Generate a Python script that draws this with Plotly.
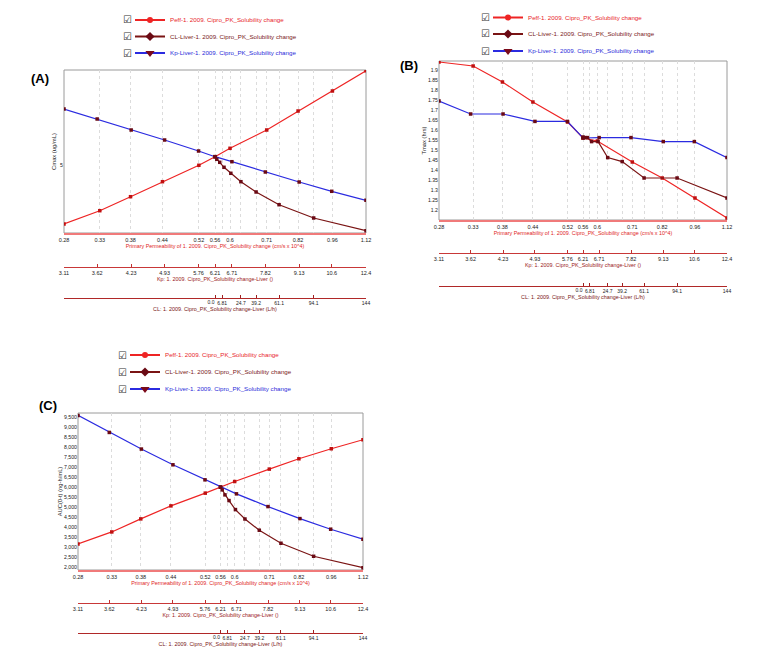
import math
import plotly.graph_objects as go

W, H = 759, 658

# ---------------- data ----------------
peff = [0.28, 0.33, 0.38, 0.44, 0.52, 0.56, 0.6, 0.71, 0.82, 0.96, 1.12]
peff_text = ["0.28", "0.33", "0.38", "0.44", "0.52", "0.56", "0.6", "0.71", "0.82", "0.96", "1.12"]
kp = [3.11, 3.62, 4.23, 4.93, 5.76, 6.21, 6.71, 7.82, 9.13, 10.6, 12.4]
kp_text = ["3.11", "3.62", "4.23", "4.93", "5.76", "6.21", "6.71", "7.82", "9.13", "10.6", "12.4"]
cl = [0, 1.7, 4.5, 8.6, 15.1, 24.7, 39.2, 61.1, 94.1, 144]
cl_ticks = [6.81, 24.7, 39.2, 61.1, 94.1, 144]
cl_text = ["6.81", "24.7", "39.2", "61.1", "94.1", "144"]
cl_zero_tick = [0]
cl_zero_text = ["0.0"]

cmax_peff = [4.41, 4.543, 4.683, 4.833, 4.997, 5.083, 5.167, 5.35, 5.54, 5.74, 5.943]
cmax_kp = [5.56, 5.46, 5.35, 5.25, 5.14, 5.083, 5.033, 4.93, 4.83, 4.737, 4.647]
cmax_cl = [5.083, 5.057, 5.027, 4.977, 4.917, 4.833, 4.73, 4.603, 4.47, 4.343]

tmax_peff = [1.94, 1.92, 1.84, 1.74, 1.64, 1.56, 1.545, 1.44, 1.36, 1.26, 1.16]
tmax_kp = [1.745, 1.68, 1.68, 1.643, 1.643, 1.56, 1.562, 1.562, 1.542, 1.542, 1.462]
tmax_cl = [1.565, 1.562, 1.562, 1.542, 1.542, 1.462, 1.442, 1.36, 1.36, 1.26]

auc_peff = [3165, 3765, 4415, 5065, 5700, 6000, 6280, 6900, 7415, 7915, 8365]
auc_kp = [9580, 8730, 7900, 7115, 6365, 6000, 5665, 5030, 4430, 3900, 3400]
auc_cl = [6000, 5865, 5615, 5330, 4880, 4410, 3850, 3200, 2550, 1980]

legend_names = ["Peff-1. 2009. Cipro_PK_Solubility change",
                "CL-Liver-1. 2009. Cipro_PK_Solubility change",
                "Kp-Liver-1. 2009. Cipro_PK_Solubility change"]
title_peff = "Primary Permeability of 1. 2009. Cipro_PK_Solubility change (cm/s x 10^4)"
title_kp = "Kp: 1. 2009. Cipro_PK_Solubility change-Liver ()"
title_cl = "CL: 1. 2009. Cipro_PK_Solubility change-Liver (L/h)"

# ---------------- styles ----------------
RED = "#ee2424"
BLUE = "#2b2be0"
BROWN = "#7a1414"
MK_RED = "#c01010"
MK_DARK = "#6a0a14"
SANS = "Liberation Sans, Arial, sans-serif"


def xd(l, r):
    return [l / W, r / W]


def yd(top, bottom):
    return [1 - bottom / H, 1 - top / H]


def yp(y):
    return 1 - y / H


panels = [
    dict(x0=64, x1=366, y0=70, y1=233, kpl=267, cll=298,
         ys=(cmax_peff, cmax_kp, cmax_cl), yr=[4.32, 5.95], ytitle="Cmax (ug/mL)",
         ytv=[5], ytt=["5"], ystand=3, label="(A)", lab=(40, 78), leg=(130, [20, 36.5, 53])),
    dict(x0=439, x1=727, y0=61, y1=220, kpl=253, cll=286,
         ys=(tmax_peff, tmax_kp, tmax_cl), yr=[1.15, 1.945], ytitle="Tmax (hrs)",
         ytv=[1.2 + 0.05 * i for i in range(15)], ytt=None, ystand=0, label="(B)", lab=(409, 65),
         leg=(488, [17.5, 34, 51])),
    dict(x0=78, x1=363, y0=413, y1=570, kpl=603, cll=633,
         ys=(auc_peff, auc_kp, auc_cl), yr=[1865, 9700], ytitle="AUC(0-t) (ng-h/mL)",
         ytv=[2000 + 500 * i for i in range(16)], ytt=None, ystand=0, label="(C)", lab=(48, 405),
         leg=(125, [355, 372, 389])),
]

fig = go.Figure()
layout = dict(width=W, height=H, margin=dict(l=0, r=0, t=0, b=0, autoexpand=False),
              paper_bgcolor="white", plot_bgcolor="rgba(0,0,0,0)",
              showlegend=True, annotations=[], shapes=[])

tickfont = dict(family=SANS, size=5.5, color="#222")
ytickfont = dict(family=SANS, size=5.2, color="#222")
cltickfont = dict(family=SANS, size=5.0, color="#222")
TITLE_SIZE = 5.4
legend_count = 0
for i, p in enumerate(panels):
    ax_p = 3 * i + 1
    ax_k = 3 * i + 2
    ax_c = 3 * i + 3
    ax_z = 10 + i
    yid = i + 1
    xn = lambda n: "x" if n == 1 else f"x{n}"
    yn = "y" if yid == 1 else f"y{yid}"
    xkey = lambda n: "xaxis" if n == 1 else f"xaxis{n}"
    ykey = "yaxis" if yid == 1 else f"yaxis{yid}"
    dom = xd(p["x0"], p["x1"])

    layout[xkey(ax_p)] = dict(
        domain=dom, anchor=yn, type="log",
        range=[math.log10(peff[0]), math.log10(peff[-1])],
        tickmode="array", tickvals=peff, ticktext=peff_text, tickfont=tickfont, tickangle=0,
        ticks="", showline=True, linecolor="#f07a7a", linewidth=2,
        showgrid=True, gridcolor="#dcdcdc", griddash="dot", gridwidth=1,
        zeroline=False,
        title=dict(text=title_peff, font=dict(family=SANS, size=TITLE_SIZE, color="#e01e1e"),
                   standoff=1))
    layout[xkey(ax_k)] = dict(
        domain=dom, overlaying=xn(ax_p), anchor="free", position=yp(p["kpl"]), side="bottom",
        type="log", range=[math.log10(kp[0]), math.log10(kp[-1])],
        tickmode="array", tickvals=kp, ticktext=kp_text, tickfont=tickfont, tickangle=0,
        ticks="inside", ticklen=3, tickcolor="#c03030",
        showline=True, linecolor="#c83838", linewidth=1, showgrid=False, zeroline=False,
        title=dict(text=title_kp, font=dict(family=SANS, size=TITLE_SIZE, color="#9a1818"),
                   standoff=1))
    layout[xkey(ax_c)] = dict(
        domain=dom, overlaying=xn(ax_p), anchor="free", position=yp(p["cll"]), side="bottom",
        type="linear", range=[-144, 144],
        tickmode="array", tickvals=cl_ticks, ticktext=cl_text, tickfont=cltickfont, tickangle=0,
        ticks="inside", ticklen=3, tickcolor="#a02020",
        showline=True, linecolor="#b02828", linewidth=1,
        showgrid=True, gridcolor="#dcdcdc", griddash="dot", gridwidth=1, zeroline=False,
        title=dict(text=title_cl, font=dict(family=SANS, size=TITLE_SIZE, color="#7a1414"),
                   standoff=1))
    # the "0.0" tick of the CL axis, labelled to the left of its tick
    layout[xkey(ax_z)] = dict(
        domain=dom, overlaying=xn(ax_p), anchor="free", position=yp(p["cll"]), side="bottom",
        type="linear", range=[-144, 144],
        tickmode="array", tickvals=cl_zero_tick, ticktext=cl_zero_text, tickfont=cltickfont,
        tickangle=0, ticklabelposition="outside left",
        ticks="inside", ticklen=3, tickcolor="#a02020",
        showline=False, showgrid=False, zeroline=False)
    yax = dict(domain=yd(p["y0"], p["y1"]), anchor=xn(ax_p), range=p["yr"],
               tickmode="array", tickvals=p["ytv"], tickfont=ytickfont,
               ticks="", showline=False, showgrid=False, zeroline=False, separatethousands=True,
               title=dict(text=p["ytitle"], font=dict(family=SANS, size=TITLE_SIZE + 0.4, color="#222"),
                          standoff=p["ystand"]))
    if p["ytt"] is not None:
        yax["ticktext"] = p["ytt"]
    layout[ykey] = yax

    yp_, yk_, yc_ = p["ys"]
    fig.add_trace(go.Scatter(x=peff, y=yp_, xaxis=xn(ax_p), yaxis=yn, mode="lines+markers",
                             line=dict(color=RED, width=1.2),
                             marker=dict(symbol="square", size=3.5, color=MK_RED),
                             showlegend=False, name=legend_names[0]))
    fig.add_trace(go.Scatter(x=kp, y=yk_, xaxis=xn(ax_k), yaxis=yn, mode="lines+markers",
                             line=dict(color=BLUE, width=1.2),
                             marker=dict(symbol="square", size=3.5, color=MK_DARK),
                             showlegend=False, name=legend_names[2]))
    fig.add_trace(go.Scatter(x=cl, y=yc_, xaxis=xn(ax_c), yaxis=yn, mode="lines+markers",
                             line=dict(color=BROWN, width=1.2),
                             marker=dict(symbol="square", size=3.5, color=MK_DARK),
                             showlegend=False, name=legend_names[1]))
    # empty carrier so the "0.0" CL tick axis is laid out
    fig.add_trace(go.Scatter(x=[None], y=[None], xaxis=xn(ax_z), yaxis=yn, mode="lines",
                             showlegend=False, hoverinfo="skip"))

    layout["shapes"].append(dict(type="rect", xref=f"{xn(ax_p)} domain", yref=f"{yn} domain",
                                 x0=0, x1=1, y0=0, y1=1, layer="below",
                                 line=dict(color="#9a9a9a", width=1)))
    layout["annotations"].append(dict(text="<b>" + p["label"] + "</b>", xref="paper", yref="paper",
                                      x=p["lab"][0] / W, y=yp(p["lab"][1]), showarrow=False,
                                      xanchor="center", yanchor="middle",
                                      font=dict(family=SANS, size=13, color="black")))

    lx, lys = p["leg"]
    specs = [(legend_names[0], RED, "circle", 6, RED, "#e8242a"),
             (legend_names[1], BROWN, "diamond", 7, MK_DARK, "#7a1a1a"),
             (legend_names[2], BLUE, "triangle-down", 8, "#7a0a1a", "#2b2bd9")]
    for (nm, lc, sym, sz, mc, tc), ly in zip(specs, lys):
        legend_count += 1
        lkey = "legend" if legend_count == 1 else f"legend{legend_count}"
        fig.add_trace(go.Scatter(x=[None], y=[None], xaxis=xn(ax_p), yaxis=yn,
                                 mode="lines+markers", name=nm, legend=lkey,
                                 line=dict(color=lc, width=2),
                                 marker=dict(symbol=sym, size=sz, color=mc),
                                 showlegend=True, hoverinfo="skip"))
        layout[lkey] = dict(x=lx / W, y=yp(ly), xanchor="left", yanchor="middle",
                            bgcolor="rgba(0,0,0,0)", borderwidth=0, itemwidth=30,
                            font=dict(family=SANS, size=6.2, color=tc))
        layout["annotations"].append(dict(text="☑", xref="paper", yref="paper",
                                          x=(lx - 3) / W, y=yp(ly), showarrow=False,
                                          xanchor="center", yanchor="middle",
                                          font=dict(family="DejaVu Sans", size=10, color="#333")))

fig.update_layout(**layout)
fig.write_html("out.html", config={"displayModeBar": False},
               post_script="document.body.style.margin='0';")
